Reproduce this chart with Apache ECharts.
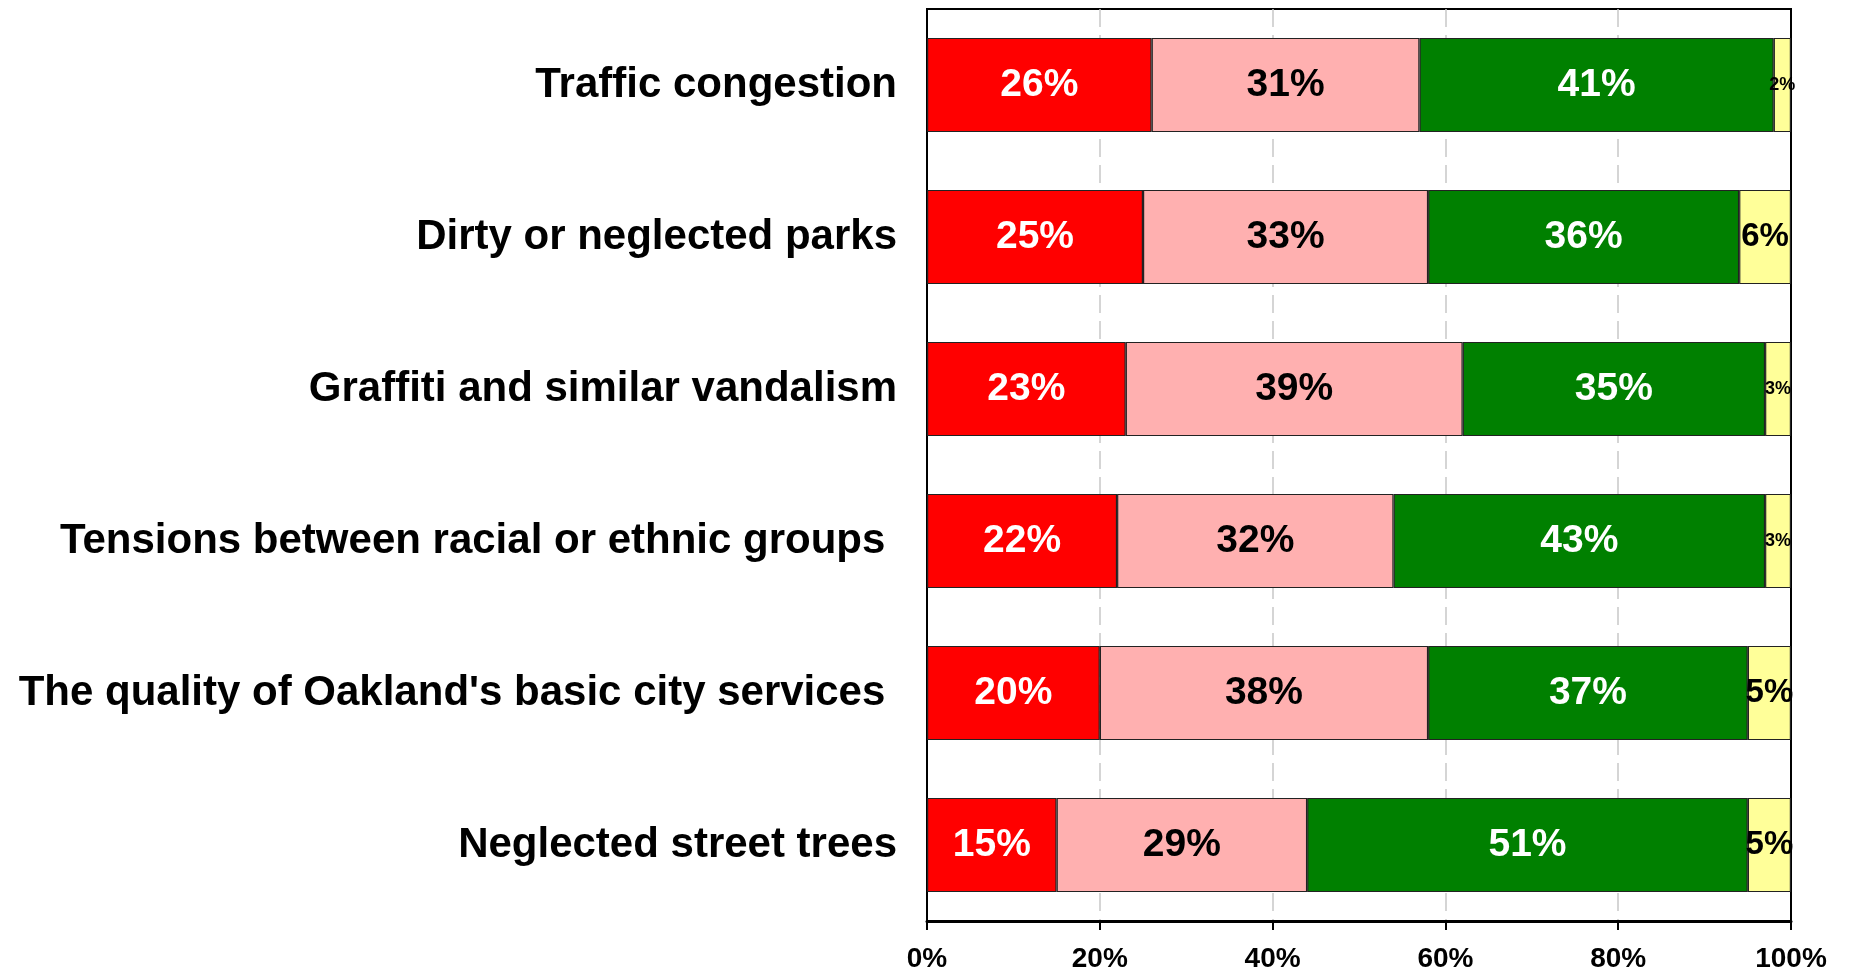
<!DOCTYPE html>
<html>
<head>
<meta charset="utf-8">
<script src="https://cdn.jsdelivr.net/npm/echarts@6/dist/echarts.min.js"></script>
<style>html,body{margin:0;padding:0;background:#fff}#c{width:1849px;height:973px}</style>
</head>
<body>
<div id="c"></div>
<script>
const categories = [
  "Traffic congestion",
  "Dirty or neglected parks",
  "Graffiti and similar vandalism",
  "Tensions between racial or ethnic groups ",
  "The quality of Oakland's basic city services ",
  "Neglected street trees"
];
const seriesNames = ["Red", "Pink", "Green", "Yellow"];
const redVals = [26, 25, 23, 22, 20, 15];
const pinkVals = [31, 33, 39, 32, 38, 29];
const greenVals = [41, 36, 35, 43, 37, 51];
const yellowVals = [2, 6, 3, 3, 5, 5];
const xTicks = [0, 20, 40, 60, 80, 100];

const colors = ['#FF0000', '#FFB0B0', '#008000', '#FFFF99'];
const labelColors = ['#FFFFFF', '#000000', '#FFFFFF', '#000000'];
const FONT = '"Liberation Sans", Arial, sans-serif';

function mkSeries(name, vals, i) {
  return {
    name: name,
    type: 'bar',
    stack: 'total',
    barCategoryGap: '38%',
    data: vals.map(v => {
      const d = { value: v };
      if (i === 3) {
        d.label = { fontSize: v <= 3 ? 18 : 33 };
      }
      return d;
    }),
    itemStyle: { color: colors[i], borderColor: '#222', borderWidth: 1.2 },
    label: {
      show: true,
      position: 'inside',
      formatter: p => p.value + '%',
      color: labelColors[i],
      fontFamily: FONT,
      fontWeight: 'bold',
      fontSize: 39
    },
    emphasis: { disabled: true }
  };
}

const chart = echarts.init(document.getElementById('c'));
chart.setOption({
  animation: false,
  grid: { left: 927, right: 58, top: 9, bottom: 51, show: true, borderColor: '#000', borderWidth: 2, backgroundColor: 'transparent' },
  xAxis: {
    type: 'value', min: 0, max: 100, interval: 20,
    axisLine: { show: true, lineStyle: { color: '#000', width: 3 } },
    axisTick: { show: true, length: 9, lineStyle: { color: '#000', width: 2 } },
    axisLabel: { formatter: v => v + '%', fontFamily: FONT, fontWeight: 'bold', fontSize: 28, color: '#000', margin: 24 },
    splitLine: { show: true, showMinLine: false, showMaxLine: false, lineStyle: { color: '#c8c8c8', width: 1.5, type: [18, 8] } }
  },
  yAxis: {
    type: 'category', data: categories, inverse: true,
    axisLine: { show: true, lineStyle: { color: '#000', width: 2 } },
    axisTick: { show: false },
    axisLabel: { fontFamily: FONT, fontWeight: 'bold', fontSize: 42, color: '#000', margin: 30 }
  },
  series: [
    mkSeries(seriesNames[0], redVals, 0),
    mkSeries(seriesNames[1], pinkVals, 1),
    mkSeries(seriesNames[2], greenVals, 2),
    mkSeries(seriesNames[3], yellowVals, 3)
  ]
});
</script>
</body>
</html>
